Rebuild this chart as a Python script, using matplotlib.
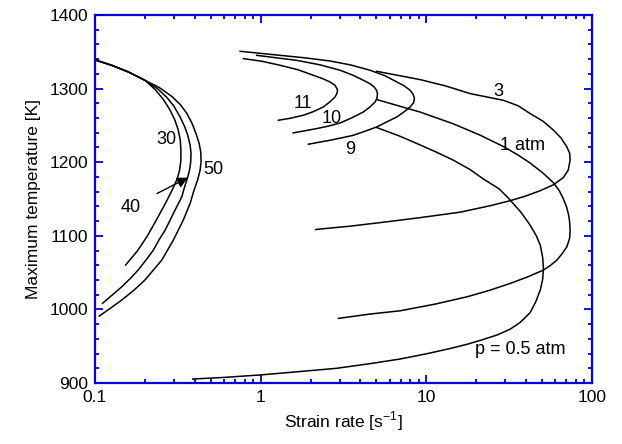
import numpy as np
import matplotlib as mpl
mpl.use('Agg')
import matplotlib.pyplot as plt

plt.rcParams['font.family'] = ['Liberation Sans', 'DejaVu Sans']

BLUE = '#0000dd'

# curves: (strain rate [1/s], max temperature [K])
p30_x = [0.102, 0.126, 0.159, 0.200, 0.230, 0.258, 0.282, 0.302, 0.317, 0.327, 0.330,
         0.330, 0.324, 0.313, 0.292, 0.266, 0.234, 0.206, 0.181, 0.153]
p30_T = [1338.4, 1331.7, 1322.6, 1311.3, 1299.1, 1285.5, 1271.9, 1258.4, 1244.8, 1230.5, 1216.3,
         1202.7, 1189.1, 1176.9, 1162.0, 1144.0, 1121.0, 1099.0, 1080.0, 1060.2]

p40_x = [0.102, 0.126, 0.159, 0.200, 0.237, 0.271, 0.300, 0.326, 0.347, 0.363, 0.375, 0.380,
         0.378, 0.372, 0.362, 0.347, 0.334, 0.304, 0.284, 0.265, 0.243, 0.225, 0.203, 0.182,
         0.163, 0.145, 0.127, 0.111]
p40_T = [1338.4, 1331.7, 1322.6, 1311.3, 1300.4, 1288.2, 1276.0, 1261.5, 1248.9, 1236.6, 1223.1, 1212.2,
         1200.0, 1189.1, 1178.9, 1166.0, 1152.9, 1134.8, 1121.3, 1107.7, 1094.1, 1080.5, 1067.0, 1053.4,
         1041.8, 1030.7, 1019.5, 1008.2]

p50_x = [0.102, 0.126, 0.159, 0.200, 0.243, 0.290, 0.326, 0.358, 0.385, 0.407, 0.425, 0.435,
         0.437, 0.431, 0.416, 0.396, 0.375, 0.341, 0.297, 0.253, 0.200, 0.172, 0.145, 0.123, 0.106]
p50_T = [1338.4, 1331.7, 1322.6, 1311.3, 1301.8, 1289.6, 1278.7, 1266.5, 1252.9, 1238.9, 1225.8, 1213.6,
         1201.3, 1189.1, 1175.6, 1162.0, 1143.9, 1121.3, 1094.1, 1067.0, 1039.8, 1026.2, 1012.7, 1001.1, 990.9]

p11_x = [0.787, 1.02, 1.31, 1.68, 2.08, 2.38, 2.62, 2.81, 2.91, 2.89, 2.81, 2.62, 2.39,
         2.07, 1.81, 1.51, 1.28]
p11_T = [1340.7, 1337.1, 1331.7, 1325.6, 1318.1, 1313.3, 1309.0, 1304.5, 1298.7, 1293.6, 1288.6,
         1282.1, 1275.0, 1268.5, 1263.8, 1259.7, 1257.0]

p10_x = [0.946, 1.65, 2.28, 3.02, 3.61, 4.17, 4.58, 4.84, 5.01, 5.07, 5.04, 4.91, 4.58,
         4.17, 3.56, 3.02, 2.55, 2.18, 1.85, 1.57]
p10_T = [1345.2, 1338.4, 1332.3, 1324.9, 1318.1, 1311.3, 1306.5, 1302.2, 1297.7, 1293.2, 1287.5,
         1281.8, 1275.3, 1268.3, 1260.4, 1253.3, 1248.9, 1245.7, 1242.7, 1239.8]

p9_x = [0.752, 1.31, 1.85, 2.62, 3.47, 4.58, 5.64, 6.64, 7.35, 7.98, 8.32, 8.48, 8.38,
        7.98, 7.35, 6.64, 5.80, 5.02, 4.27, 3.63, 3.10, 2.62, 2.25, 1.94]
p9_T = [1350.7, 1345.2, 1341.8, 1337.5, 1332.3, 1324.9, 1317.4, 1309.0, 1303.8, 1297.7, 1292.3,
        1286.5, 1280.8, 1275.0, 1268.5, 1261.5, 1255.0, 1247.9, 1242.1, 1236.6, 1233.2, 1229.8,
        1227.1, 1224.4]

p3_x = [5.02, 9.18, 13.0, 18.4, 29.2, 35.8, 42.3, 50.7, 58.6, 65.2, 70.5, 73.3, 73.8,
        71.8, 67.0, 58.6, 48.7, 39.5, 32.1, 24.3, 16.0, 9.18, 5.77, 3.47, 2.15]
p3_T = [1323.5, 1312.2, 1303.8, 1293.2, 1284.1, 1276.7, 1266.1, 1255.6, 1243.4, 1232.6, 1220.8,
        1212.2, 1202.7, 1189.1, 1178.9, 1169.4, 1161.3, 1153.8, 1147.7, 1140.9, 1132.1, 1124.7,
        1119.0, 1113.1, 1108.6]

p1_x = [5.02, 9.18, 14.6, 21.1, 29.2, 35.8, 42.3, 50.7, 58.6, 63.4, 67.3, 70.3, 72.3, 73.3,
        73.8, 73.3, 70.5, 66.1, 61.4, 55.9, 50.9, 40.6, 32.1, 24.3, 17.6, 11.3, 6.95, 4.58, 2.95]
p1_T = [1285.1, 1268.1, 1252.0, 1236.8, 1221.3, 1209.7, 1198.9, 1185.1, 1171.9, 1161.5, 1149.8,
        1138.9, 1128.0, 1118.5, 1107.7, 1096.8, 1085.0, 1075.8, 1067.0, 1059.5, 1053.4, 1043.9,
        1035.3, 1026.2, 1017.1, 1007.2, 998.1, 993.7, 987.8]

p05_x = [5.02, 6.95, 9.18, 11.5, 14.6, 18.4, 22.0, 27.5, 31.2, 37.4, 42.3, 46.0, 48.7, 50.4,
         50.9, 50.4, 48.7, 45.7, 42.3, 36.8, 32.1, 26.8, 21.1, 17.6, 13.9, 10.07, 6.95, 4.58,
         2.88, 1.73, 0.99, 0.610, 0.389]
p05_T = [1247.1, 1235.2, 1223.4, 1213.7, 1202.6, 1189.9, 1177.5, 1163.8, 1151.5, 1131.5, 1114.5,
         1100.5, 1087.5, 1070.4, 1055.7, 1041.2, 1026.2, 1010.0, 995.5, 982.2, 973.2, 965.3,
         957.8, 952.6, 946.8, 939.8, 932.6, 926.3, 920.0, 915.6, 910.9, 907.7, 905.4]

curves = [(p30_x, p30_T), (p40_x, p40_T), (p50_x, p50_T),
          (p11_x, p11_T), (p10_x, p10_T), (p9_x, p9_T),
          (p3_x, p3_T), (p1_x, p1_T), (p05_x, p05_T)]

labels = ['30', '50', '11', '10', '9', '3', '1 atm', 'p = 0.5 atm']
label_x = [0.268, 0.518, 1.81, 2.68, 3.47, 27.2, 37.8, 36.8]
label_T = [1230.8, 1190.0, 1279.7, 1259.3, 1217.2, 1295.4, 1223.1, 945.7]

xticks = [0.1, 1, 10, 100]
xtick_labels = ['0.1', '1', '10', '100']
yticks = [900, 1000, 1100, 1200, 1300, 1400]

fig = plt.figure(figsize=(6.22, 4.44), dpi=100)
ax = fig.add_axes([95 / 622, 1 - 383 / 444, 497 / 622, 368 / 444])

for cx, cT in curves:
    ax.plot(cx, cT, '-', color='k', lw=1.1, solid_joinstyle='round')

for s, lx, lT in zip(labels, label_x, label_T):
    ax.text(lx, lT, s, fontsize=13, ha='center', va='center')

ax.annotate('40', xy=(0.364, 1179), xytext=(0.164, 1139), fontsize=13,
            ha='center', va='center',
            arrowprops=dict(arrowstyle='-|>', color='k', lw=1.0,
                            mutation_scale=16, shrinkA=11, shrinkB=0))

ax.set_xscale('log')
ax.set_xlim(0.1, 100)
ax.set_ylim(900, 1400)
ax.set_xticks(xticks)
ax.set_xticklabels(xtick_labels)
ax.set_yticks(yticks)
ax.yaxis.set_minor_locator(mpl.ticker.MultipleLocator(20))
ax.xaxis.set_minor_locator(mpl.ticker.LogLocator(base=10, subs=np.arange(2, 10)))
ax.xaxis.set_minor_formatter(mpl.ticker.NullFormatter())

for sp in ax.spines.values():
    sp.set_color(BLUE)
    sp.set_linewidth(1.6)
ax.tick_params(which='both', direction='in', top=True, right=True,
               color=BLUE, labelsize=12.5, labelcolor='k')
ax.tick_params(which='major', length=6, width=1.3, pad=5)
ax.tick_params(which='minor', length=3, width=1.3)

ax.set_xlabel('Strain rate [s$^{\\mathregular{-1}}$]', fontsize=12.5, labelpad=3)
ax.set_ylabel('Maximum temperature [K]', fontsize=12.5, labelpad=6)

fig.savefig('out.png', dpi=100)
